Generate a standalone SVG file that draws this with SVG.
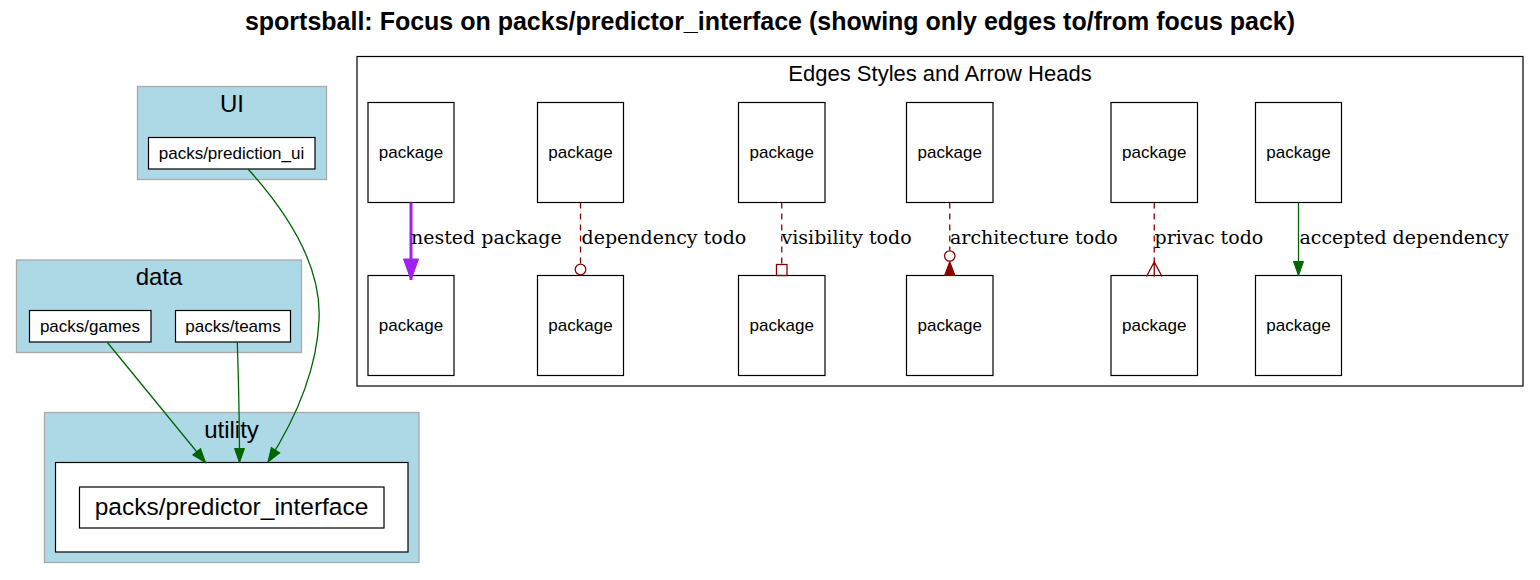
<svg xmlns="http://www.w3.org/2000/svg" width="1540" height="580" viewBox="0 0 1540 580">
<style>
  .bg { fill: #ffffff; }
  .title { font-family: "Liberation Sans", Arial, sans-serif; font-weight: bold; font-size: 25px; fill: #000; text-anchor: middle; }
  .cluster { fill: #add8e6; stroke: #a9a9a9; stroke-width: 1.3; }
  .clabel { font-family: "Liberation Sans", Arial, sans-serif; font-size: 24px; fill: #000; text-anchor: middle; }
  .node { fill: #ffffff; stroke: #000000; stroke-width: 1.2; }
  .nlabel { font-family: "Liberation Sans", Arial, sans-serif; font-size: 17px; fill: #000; text-anchor: middle; }
  .biglabel { font-family: "Liberation Sans", Arial, sans-serif; font-size: 24.5px; fill: #000; text-anchor: middle; }
  .legend { fill: #ffffff; stroke: #000000; stroke-width: 1.2; }
  .llabel { font-family: "Liberation Sans", Arial, sans-serif; font-size: 22px; fill: #000; text-anchor: middle; }
  .elabel { font-family: "DejaVu Serif", "Liberation Serif", serif; font-size: 19px; fill: #000; }
  .green { fill: none; stroke: #006400; stroke-width: 1.3; }
  .red { fill: none; stroke: #8b0000; stroke-width: 1.3; stroke-dasharray: 6,5; }
  .redhead { fill: none; stroke: #8b0000; stroke-width: 1.3; }
</style>
<defs>
  <marker id="arrowGreen" markerUnits="userSpaceOnUse" viewBox="0 0 14 10" markerWidth="14" markerHeight="10" refX="14" refY="5" orient="auto" overflow="visible">
    <path d="M0,0 L14,5 L0,10 z" fill="#006400" stroke="#006400" stroke-width="1"/>
  </marker>
  <marker id="arrowPurple" markerUnits="userSpaceOnUse" viewBox="0 0 21 15" markerWidth="21" markerHeight="15" refX="21" refY="7.5" orient="auto" overflow="visible">
    <path d="M0,0 L21,7.5 L0,15 z" fill="#a020f0" stroke="#a020f0" stroke-width="1"/>
  </marker>
</defs>
<rect class="bg" x="0" y="0" width="1540" height="580"/>
<text class="title" x="770" y="30">sportsball: Focus on packs/predictor_interface (showing only edges to/from focus pack)</text>

<g id="cluster_UI">
  <rect class="cluster" x="137.5" y="86.5" width="189" height="93"/>
  <text class="clabel" x="232" y="112">UI</text>
</g>
<g id="node_prediction_ui">
  <rect class="node" x="148.5" y="137.5" width="166.5" height="31.5"/>
  <text class="nlabel" x="231.5" y="159">packs/prediction_ui</text>
</g>

<g id="cluster_data">
  <rect class="cluster" x="16.5" y="260" width="285" height="92.5"/>
  <text class="clabel" x="159" y="285">data</text>
</g>
<g id="node_games">
  <rect class="node" x="29.5" y="310.5" width="121.5" height="31.5"/>
  <text class="nlabel" x="90" y="332">packs/games</text>
</g>
<g id="node_teams">
  <rect class="node" x="175.5" y="310.5" width="115" height="31.5"/>
  <text class="nlabel" x="233" y="332">packs/teams</text>
</g>

<g id="cluster_utility">
  <rect class="cluster" x="44.5" y="412.5" width="374.5" height="150"/>
  <text class="clabel" x="231.5" y="437.5">utility</text>
  <rect class="node" x="55.5" y="462.5" width="352.5" height="89.5"/>
</g>
<g id="node_predictor_interface">
  <rect class="node" x="79.5" y="487" width="304.5" height="41"/>
  <text class="biglabel" x="231.5" y="515">packs/predictor_interface</text>
</g>

<g id="legend">
  <rect class="legend" x="357" y="56.5" width="1166" height="329.5"/>
  <text class="llabel" x="940" y="81">Edges Styles and Arrow Heads</text>
</g>
<g id="legend_nodes">
  <g id="pkg_a1"><rect class="node" x="368" y="102.5" width="86" height="100"/><text class="nlabel" x="411" y="158">package</text></g>
  <g id="pkg_a2"><rect class="node" x="368" y="275.5" width="86" height="100"/><text class="nlabel" x="411" y="331">package</text></g>
  <g id="pkg_b1"><rect class="node" x="537.5" y="102.5" width="86" height="100"/><text class="nlabel" x="580.5" y="158">package</text></g>
  <g id="pkg_b2"><rect class="node" x="537.5" y="275.5" width="86" height="100"/><text class="nlabel" x="580.5" y="331">package</text></g>
  <g id="pkg_c1"><rect class="node" x="738.5" y="102.5" width="86.5" height="100"/><text class="nlabel" x="781.75" y="158">package</text></g>
  <g id="pkg_c2"><rect class="node" x="738.5" y="275.5" width="86.5" height="100"/><text class="nlabel" x="781.75" y="331">package</text></g>
  <g id="pkg_d1"><rect class="node" x="906.5" y="102.5" width="86.5" height="100"/><text class="nlabel" x="949.75" y="158">package</text></g>
  <g id="pkg_d2"><rect class="node" x="906.5" y="275.5" width="86.5" height="100"/><text class="nlabel" x="949.75" y="331">package</text></g>
  <g id="pkg_e1"><rect class="node" x="1111" y="102.5" width="86.5" height="100"/><text class="nlabel" x="1154.25" y="158">package</text></g>
  <g id="pkg_e2"><rect class="node" x="1111" y="275.5" width="86.5" height="100"/><text class="nlabel" x="1154.25" y="331">package</text></g>
  <g id="pkg_f1"><rect class="node" x="1255.5" y="102.5" width="86" height="100"/><text class="nlabel" x="1298.5" y="158">package</text></g>
  <g id="pkg_f2"><rect class="node" x="1255.5" y="275.5" width="86" height="100"/><text class="nlabel" x="1298.5" y="331">package</text></g>
</g>

<g id="connectors">
  <path class="green" d="M248,169 C285,210 322,265 319,320 C317,365 300,412 268,462" marker-end="url(#arrowGreen)"/>
  <path class="green" d="M107,342 L205.5,462.5" marker-end="url(#arrowGreen)"/>
  <path class="green" d="M237.3,342 C238.5,380 239.5,420 239.5,462.5" marker-end="url(#arrowGreen)"/>

  <path d="M411,202.5 L411,280" fill="none" stroke="#a020f0" stroke-width="3" marker-end="url(#arrowPurple)"/>
  <text class="elabel" x="411" y="243.5">nested package</text>

  <path class="red" d="M580.5,202.5 L580.5,264"/>
  <circle class="redhead" cx="580.5" cy="269.5" r="5.3"/>
  <text class="elabel" x="581.5" y="243.5">dependency todo</text>

  <path class="red" d="M781.75,202.5 L781.75,264.5"/>
  <rect class="redhead" x="776.5" y="264.5" width="10.5" height="11"/>
  <text class="elabel" x="781.5" y="243.5">visibility todo</text>

  <path class="red" d="M949.75,202.5 L949.75,250.5"/>
  <circle class="redhead" cx="949.75" cy="256" r="5.2"/>
  <path d="M949.75,261.5 L944.5,275.5 L955,275.5 z" fill="#8b0000" stroke="#8b0000" stroke-width="1"/>
  <text class="elabel" x="950" y="243.5">architecture todo</text>

  <path class="red" d="M1154.25,202.5 L1154.25,262"/>
  <path class="redhead" d="M1146.5,276.5 L1154.25,262 L1162,276.5 M1154.25,262 L1154.25,276.5" stroke-width="1.6"/>
  <text class="elabel" x="1154.5" y="243.5">privac todo</text>

  <path class="green" d="M1298.5,202.5 L1298.5,275.5" marker-end="url(#arrowGreen)"/>
  <text class="elabel" x="1299.5" y="243.5">accepted dependency</text>
</g>
</svg>
